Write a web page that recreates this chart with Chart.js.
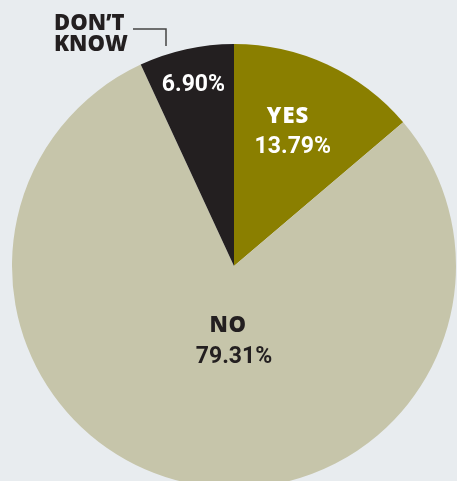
<!DOCTYPE html>
<html>
<head>
<meta charset="utf-8">
<script src="https://cdn.jsdelivr.net/npm/chart.js@4/dist/chart.umd.min.js"></script>
<style>
  html, body { margin: 0; padding: 0; background: #e8ecef; overflow: hidden; width: 457px; height: 481px; }
  #wrap { position: absolute; left: 0; top: 0; width: 457px; height: 532px; }
</style>
</head>
<body>
<div id="wrap"><canvas id="c"></canvas></div>
<script>
const categories = ["YES", "NO", "DON\u2019T KNOW"];
const values = [13.79, 79.31, 6.90];
const valueLabels = ["13.79%", "79.31%", "6.90%"];
const sliceColors = ["#8a7f00", "#c6c5aa", "#231f20"];

const labelPlugin = {
  id: 'sliceLabels',
  afterDatasetsDraw(chart) {
    const ctx = chart.ctx;
    const meta = chart.getDatasetMeta(0);
    const lab = "800 22px 'Open Sans', sans-serif";
    const pct = "700 23px Roboto, sans-serif";
    meta.data.forEach((arc, i) => {
      const p = arc.getProps(['x', 'y', 'startAngle', 'endAngle', 'outerRadius'], true);
      let ang = (p.startAngle + p.endAngle) / 2;
      let frac;
      if (i === 0) { frac = 0.66; }
      else if (i === 1) { ang = Math.PI / 2; frac = 0.335; }
      else { frac = 0.85; }
      const cx = p.x + Math.cos(ang) * p.outerRadius * frac;
      const cy = p.y + Math.sin(ang) * p.outerRadius * frac;
      ctx.save();
      ctx.textAlign = 'center';
      ctx.textBaseline = 'alphabetic';
      if (i === 0) {
        ctx.fillStyle = '#ffffff';
        ctx.font = lab;
        ctx.letterSpacing = '1px';
        ctx.fillText(categories[i], cx - 7.5, cy - 9.6);
        ctx.letterSpacing = '0px';
        ctx.font = pct;
        ctx.fillText(valueLabels[i], cx - 2.7, cy + 20.4);
      } else if (i === 1) {
        ctx.fillStyle = '#231f20';
        ctx.font = lab;
        ctx.letterSpacing = '0.5px';
        ctx.fillText(categories[i], cx - 6, cy - 8.4);
        ctx.letterSpacing = '0px';
        ctx.font = pct;
        ctx.fillText(valueLabels[i], cx, cy + 22.6);
      } else {
        ctx.fillStyle = '#ffffff';
        ctx.font = pct;
        ctx.fillText(valueLabels[i], cx, cy + 9.5);
        // outside label with leader line
        const ox = p.x, oy = p.y;
        ctx.strokeStyle = '#444444';
        ctx.lineWidth = 1.5;
        ctx.beginPath();
        ctx.moveTo(ox - 101, oy - 237);
        ctx.lineTo(ox - 68, oy - 237);
        ctx.lineTo(ox - 68, oy - 220);
        ctx.stroke();
        ctx.fillStyle = '#231f20';
        ctx.font = "800 22px 'Open Sans', sans-serif";
        ctx.textAlign = 'left';
        const parts = categories[i].split(' ');
        ctx.fillText(parts[0], ox - 180, oy - 236);
        ctx.fillText(parts[1], ox - 180, oy - 215);
      }
      ctx.restore();
    });
  }
};

new Chart(document.getElementById('c'), {
  type: 'pie',
  data: {
    labels: categories,
    datasets: [{
      data: values,
      backgroundColor: sliceColors,
      borderWidth: 0,
      hoverOffset: 0
    }]
  },
  options: {
    responsive: true,
    maintainAspectRatio: false,
    animation: false,
    layout: { padding: { top: 44, bottom: 44, left: 12, right: 1 } },
    plugins: { legend: { display: false }, tooltip: { enabled: false } }
  },
  plugins: [labelPlugin]
});
</script>
</body>
</html>
